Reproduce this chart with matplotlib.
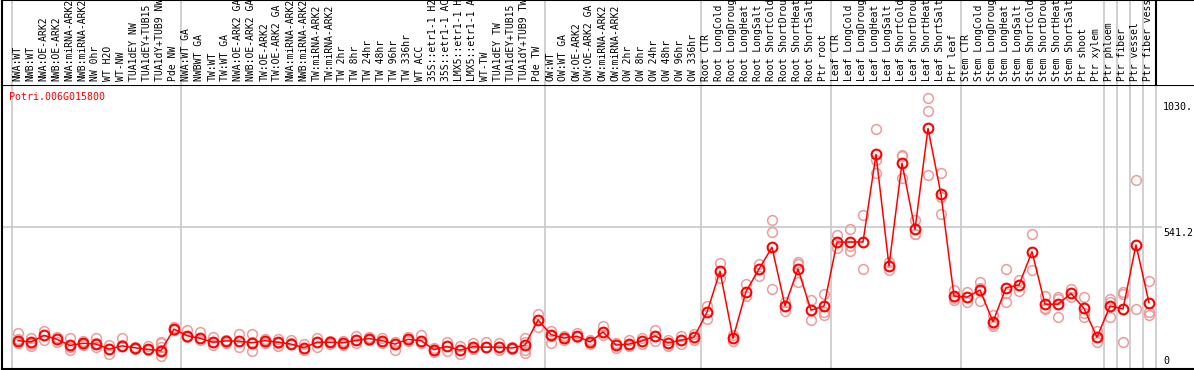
import matplotlib
matplotlib.use("Agg")
import matplotlib.pyplot as plt

# ---------------- data ----------------
gene = "Potri.006G015800"

samples = [
    "NWA:WT", "NWB:WT", "NWA:OE-ARK2", "NWB:OE-ARK2", "NWA:miRNA-ARK2", "NWB:miRNA-ARK2",
    "NW 0hr", "WT H2O", "WT-NW", "TUA1dEY NW", "TUA1dEY+TUB15 NW", "TUA1dY+TUB9 NW", "Pde NW",
    "NWA:WT GA", "NWBWT GA", "TW:WT", "TW:WT GA", "NWA:OE-ARK2 GA", "NWB:OE-ARK2 GA",
    "TW:OE-ARK2", "TW:OE-ARK2 GA", "NWA:miRNA-ARK2", "NWB:miRNA-ARK2", "TW:miRNA-ARK2",
    "TW:miRNA-ARK2", "TW 2hr", "TW 8hr", "TW 24hr", "TW 48hr", "TW 96hr", "TW 336hr",
    "WT ACC", "35S::etr1-1 H2O", "35S::etr1-1 ACC", "LMX5::etr1-1 H2O", "LMX5::etr1-1 ACC",
    "WT-TW", "TUA1dEY TW", "TUA1dEY+TUB15 TW", "TUA1dY+TUB9 TW", "Pde TW",
    "OW:WT", "OW:WT GA", "OW:OE-ARK2", "OW:OE-ARK2 GA", "OW:miRNA-ARK2", "OW:miRNA-ARK2",
    "OW 2hr", "OW 8hr", "OW 24hr", "OW 48hr", "OW 96hr", "OW 336hr",
    "Root CTR", "Root LongCold", "Root LongDrought", "Root LongHeat", "Root LongSalt",
    "Root ShortCold", "Root ShortDrought", "Root ShortHeat", "Root ShortSalt", "Ptr root",
    "Leaf CTR", "Leaf LongCold", "Leaf LongDrought", "Leaf LongHeat", "Leaf LongSalt",
    "Leaf ShortCold", "Leaf ShortDrought", "Leaf ShortHeat", "Leaf ShortSalt", "Ptr leaf",
    "Stem CTR", "Stem LongCold", "Stem LongDrought", "Stem LongHeat", "Stem LongSalt",
    "Stem ShortCold", "Stem ShortDrought", "Stem ShortHeat", "Stem ShortSalt", "Ptr shoot",
    "Ptr xylem", "Ptr phloem", "Ptr fiber", "Ptr vessel", "Ptr fiber vessel",
]

group_sizes = [13, 28, 12, 10, 10, 11, 1, 1, 1, 1]

means = [
    108, 103, 128, 113, 90, 98, 95, 76, 88, 81, 75, 70, 152,
    127, 117, 102, 107, 106, 100, 108, 102, 95, 81, 102, 102, 100, 109, 116, 108, 95,
    113, 108, 74, 86, 72, 85, 83, 83, 80, 91, 187,
    131, 118, 125, 103, 141, 91, 95, 107, 126, 99, 110, 121,
    216, 373, 117, 295, 381, 464, 241, 381, 224, 240,
    484, 484, 484, 818, 393, 784, 532, 917, 666, 278,
    274, 301, 180, 310, 320, 447, 247, 247, 288, 231, 121,
    240, 229, 473, 253,
]

replicates = [
    [138, 114, 99], [117, 95, 88], [146, 110], [123, 104], [119, 85, 72], [108, 98, 90],
    [117, 99, 85], [91, 57], [119, 91], [85, 75], [88, 72], [104, 98, 85, 72, 50], [159, 149],
    [149, 121], [140, 110], [121, 102, 91], [110, 98], [132, 85], [132, 104, 70], [113, 100],
    [113, 98, 88], [110, 100], [94, 72], [119, 85], [108, 94], [108, 91], [126, 110, 98],
    [123, 110], [117, 100], [104, 72], [123, 108], [130, 100], [79, 66], [102, 70], [89, 57],
    [98, 76], [104, 85], [100, 72], [85, 75], [119, 104, 72, 62], [210, 161],
    [146, 126, 98], [126, 110], [138, 121], [110, 94], [164, 130], [100, 80], [110, 88],
    [120, 95], [150, 105], [112, 88], [125, 95], [135, 110],
    [240, 189], [403, 346], [130, 107], [323, 278], [399, 354], [568, 522, 305], [257, 221],
    [409, 333, 400], [262, 186], [285, 218, 206],
    [511, 460], [534, 450, 468], [587, 381], [915, 796, 746], [407, 377], [816, 727, 810],
    [568, 514, 515], [1031, 983, 739], [748, 657, 590], [301, 263, 270],
    [292, 257], [333, 259, 310], [206, 170, 165], [381, 288, 254], [339, 298], [514, 377],
    [279, 229, 233], [276, 197, 268], [304, 276], [276, 212, 199], [145, 104],
    [266, 257, 199], [295, 286, 102], [720, 229], [335, 218, 206],
]

max_label = "1030."
mid_label = "541.2"
zero_label = "0"
max_value = 1030.86

# ---------------- layout ----------------
W, H = 1194, 370
fig = plt.figure(figsize=(W / 100, H / 100), dpi=100)
mono = "DejaVu Sans Mono"

x = list(range(len(samples)))
xmin = (2 - 18) / 13.0
xmax = (W - 18) / 13.0
ytop = max_value * 1.05

ax = fig.add_axes([2 / W, 1 / H, (W - 2) / W, 284 / H])
hx = fig.add_axes([2 / W, 285 / H, (W - 2) / W, 85 / H], sharex=ax)
for a in (ax, hx):
    a.set_xlim(xmin, xmax)
    a.set_xticks([])
    a.set_yticks([])
    a.spines["right"].set_visible(False)
    for s in ("left", "top", "bottom"):
        a.spines[s].set_linewidth(1.5)
        a.spines[s].set_color("black")
ax.set_ylim(0, ytop)
hx.set_ylim(0, 1)
hx.spines["bottom"].set_visible(False)

# group separators
bounds = [0]
for g in group_sizes:
    bounds.append(bounds[-1] + g)
for b in bounds:
    ax.axvline(b - 0.5, color="#c4c4c4", lw=1.1, zorder=0)
    hx.axvline(b - 0.5, color="black" if b == bounds[-1] else "#c4c4c4",
               lw=1.5 if b == bounds[-1] else 1.1, zorder=0)

ax.axhline(ytop / 2, xmin=0, xmax=(1161 - 2) / (W - 2), color="#c4c4c4", lw=1.1, zorder=0)

# replicates
for i, reps in enumerate(replicates):
    ax.plot([i] * len(reps), reps, linestyle="none", marker="o", ms=7, mfc="none",
            mec="#ec9c9c", mew=1.1, zorder=2, clip_on=False)

ax.plot(x, means, color="red", lw=1.1, zorder=3)
ax.plot(x, means, linestyle="none", marker="o", ms=7, mfc="none", mec="red", mew=1.5, zorder=4)

# header labels
for i, s in enumerate(samples):
    hx.text(i - 0.05, 4 / 85, s, rotation=90, ha="center", va="bottom",
            fontsize=7, family=mono, color="black", clip_on=False)

# title
fig.text(9 / W, 1 - 97 / H, gene, color="red", fontsize=7.2, family=mono,
         ha="left", va="center")

# right-hand value labels
xl = (1163 - 18) / 13.0
ax.annotate(max_label, (xl, max_value), xytext=(0, -3), textcoords="offset pixels",
            ha="left", va="top", fontsize=7.2, family=mono, annotation_clip=False)
ax.annotate(mid_label, (xl, ytop / 2), xytext=(0, -1), textcoords="offset pixels",
            ha="left", va="top", fontsize=7.2, family=mono, annotation_clip=False)
ax.annotate(zero_label, (xl, 0), xytext=(0, 3), textcoords="offset pixels",
            ha="left", va="bottom", fontsize=7.2, family=mono, annotation_clip=False)

fig.savefig("out.png", dpi=100)
